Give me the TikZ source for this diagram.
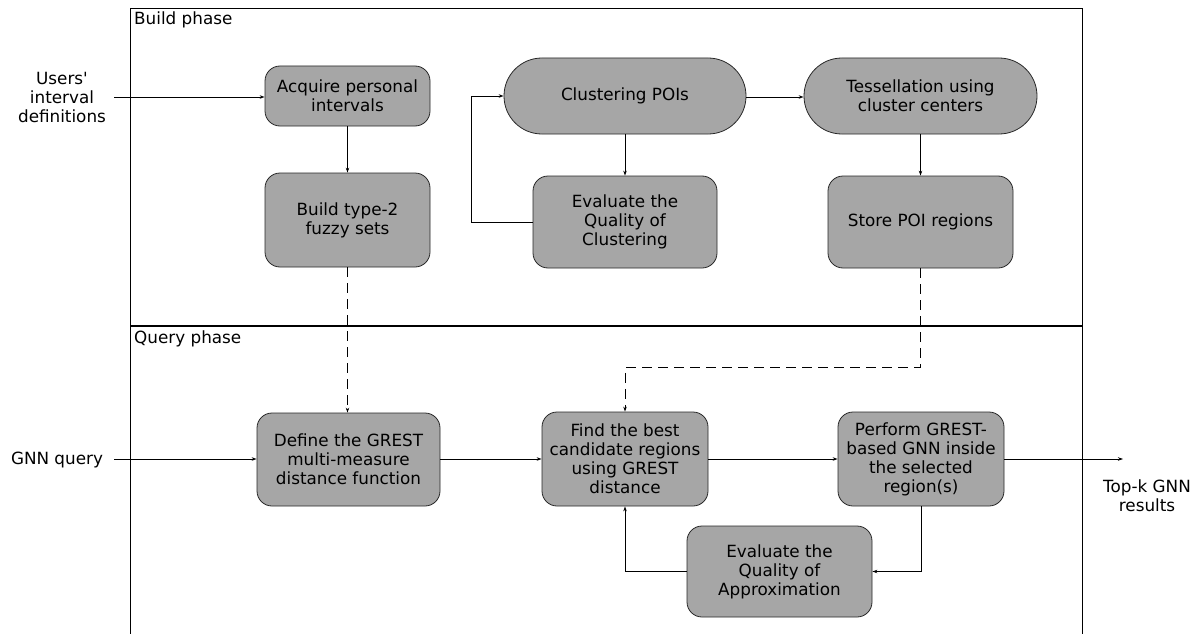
\documentclass[tikz,border=0pt]{standalone}
\usepackage{fontspec}
\setmainfont{DejaVu Sans}
\usetikzlibrary{arrows.meta}
\definecolor{boxgray}{RGB}{166,166,166}
\definecolor{edgegray}{RGB}{40,40,40}
\begin{document}
\begin{tikzpicture}[x=1pt,y=-1pt,
  txt/.style={font=\fontsize{16.8}{19}\selectfont, align=center, inner sep=0pt},
  box/.style={txt, draw=edgegray, fill=boxgray, line width=0.8pt, rounded corners=15pt},
  stadium/.style={txt, draw=edgegray, fill=boxgray, line width=0.8pt, rounded corners=37.9pt},
  arr/.style={line width=0.8pt, -{Stealth[length=5pt,width=3.5pt]}},
  dsh/.style={dash pattern=on 10pt off 6pt}]
\useasboundingbox (0,0) rectangle (1196,634);
% frame
\draw[line width=0.8pt] (130,634) -- (130,8) -- (1082,8) -- (1082,634);
\draw[line width=2pt] (130,326) -- (1082,326);
\node[txt, anchor=base west] (bp) at (134,25) {Build phase};
\node[txt, anchor=base west] (qp) at (134,343) {Query phase};
% build phase nodes
\node[box, minimum width=165pt, minimum height=60pt] (acq) at (347.5,96) {Acquire personal\\intervals};
\node[box, minimum width=165pt, minimum height=94pt] (fuz) at (347.5,220) {Build type-2\\fuzzy sets};
\node[stadium, minimum width=242pt, minimum height=76pt] (clu) at (625,96) {Clustering POIs};
\node[box, minimum width=184pt, minimum height=92pt] (evc) at (625,222) {Evaluate the\\Quality of\\Clustering};
\node[stadium, minimum width=233pt, minimum height=76pt] (tes) at (920.5,96) {Tessellation using\\cluster centers};
\node[box, minimum width=185pt, minimum height=92pt] (sto) at (920.5,222) {Store POI regions};
% query phase nodes
\node[box, minimum width=183pt, minimum height=93pt] (def) at (348.5,459.5) {Define the GREST\\multi-measure\\distance function};
\node[box, minimum width=166pt, minimum height=94pt] (fin) at (625,459) {Find the best\\candidate regions\\using GREST\\distance};
\node[box, minimum width=166pt, minimum height=94pt] (per) at (921,459) {Perform GREST-\\based GNN inside\\the selected\\region(s)};
\node[box, minimum width=185pt, minimum height=91pt] (eva) at (779.5,571.5) {Evaluate the\\Quality of\\Approximation};
% outside labels
\node[txt] (usr) at (62,97) {Users\textquotesingle\\interval\\definitions};
\node[txt] (gnn) at (57,460) {GNN query};
\node[txt] (top) at (1147,496) {Top-k GNN\\results};
\coordinate (in1) at (114,97);
\coordinate (in2) at (114,459);
\coordinate (out) at (1123,459);
% connectors
\draw[arr] (in1) -- (acq.west |- in1);
\draw[arr] (acq) -- (fuz);
\draw[arr, dsh] (fuz.south) -- (def.north -| fuz.south);
\draw[arr] (clu.east |- 0,97) -- (tes.west |- 0,97);
\draw[arr] (clu) -- (evc);
\draw[arr] (evc.west) -- ++(-61,0) |- (clu.west);
\draw[arr] (tes) -- (sto);
\draw[arr, dsh] (sto.south) -- ++(0,99) -| (fin.north);
\draw[arr] (in2) -- (def.west |- in2);
\draw[arr] (def.east |- in2) -- (fin.west |- in2);
\draw[arr] (fin.east |- in2) -- (per.west |- in2);
\draw[arr] (per.east |- in2) -- (out);
\draw[arr] (per.south) |- (eva.east);
\draw[arr] (eva.west) -| (fin.south);
\end{tikzpicture}
\end{document}
